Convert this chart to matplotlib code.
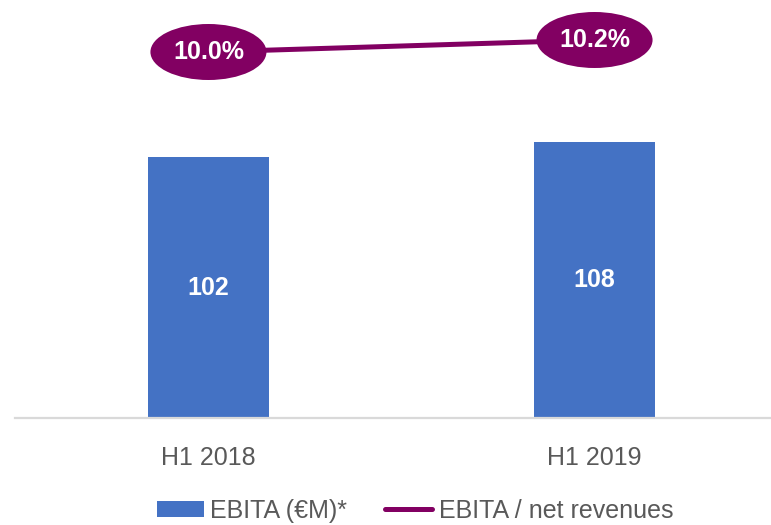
"""EBITA H1 2018 vs H1 2019: bars with margin line on a twin axis."""

import matplotlib

matplotlib.use("Agg")
import matplotlib.pyplot as plt
from matplotlib.patches import Ellipse
import numpy as np

periods = ["H1 2018", "H1 2019"]
ebita = [102, 108]
ebita_margin = [10.0, 10.2]
bar_labels = ["102", "108"]
margin_labels = ["10.0%", "10.2%"]

BLUE = "#4472C4"
PURPLE = "#820062"
GREY_TEXT = "#595959"
FONT = ["Liberation Sans", "DejaVu Sans"]

plt.rcParams["font.family"] = FONT

fig = plt.figure(figsize=(7.71, 5.25), dpi=100)
# axes spans px x 15..771, y 0..418 (from top)
ax = fig.add_axes([15 / 771, (525 - 418) / 525, 756 / 771, 418 / 525])
x = np.arange(len(periods))

bars = ax.bar(x, ebita, width=0.313, color=BLUE, label="EBITA (€M)*", zorder=2)
for rect, lab in zip(bars, bar_labels):
    ax.text(rect.get_x() + rect.get_width() / 2, rect.get_height() / 2, lab,
            ha="center", va="center", color="white", fontsize=18, fontweight="bold")

ax.set_xlim(-0.501, 1.457)
ax.set_ylim(0, 163.5)
ax.set_xticks(x)
ax.set_xticklabels(periods, fontsize=18, color=GREY_TEXT)
ax.tick_params(axis="x", length=0, pad=20)
ax.set_yticks([])
for side in ["top", "right", "left"]:
    ax.spines[side].set_visible(False)
ax.spines["bottom"].set_color("#D9D9D9")
ax.spines["bottom"].set_linewidth(1.6)

ax2 = ax.twinx()
ax2.set_ylim(3.9, 3.9 + 418 / 60)
ax2.plot(x, ebita_margin, color=PURPLE, linewidth=3.6, label="EBITA / net revenues", zorder=2,
         solid_capstyle="round")
for xi, val, lab in zip(x, ebita_margin, margin_labels):
    ax2.add_patch(Ellipse((xi, val), width=116 / 386, height=56 / 60, facecolor=PURPLE,
                          edgecolor="none", zorder=3))
    ax2.text(xi, val, lab, ha="center", va="center", color="white", fontsize=18,
             fontweight="bold", zorder=4)
ax2.set_yticks([])
for side in ["top", "right", "left", "bottom"]:
    ax2.spines[side].set_visible(False)

handles = [bars, ax2.get_lines()[0]]
leg = fig.legend(handles, ["EBITA (€M)*", "EBITA / net revenues"], loc="center",
                 bbox_to_anchor=(0.538, 0.027), ncol=2, frameon=False, fontsize=18,
                 handlelength=1.9, handleheight=0.6, handletextpad=0.25, columnspacing=1.5,
                 borderaxespad=0)
for t in leg.get_texts():
    t.set_color(GREY_TEXT)

fig.savefig("out.png", dpi=100)
